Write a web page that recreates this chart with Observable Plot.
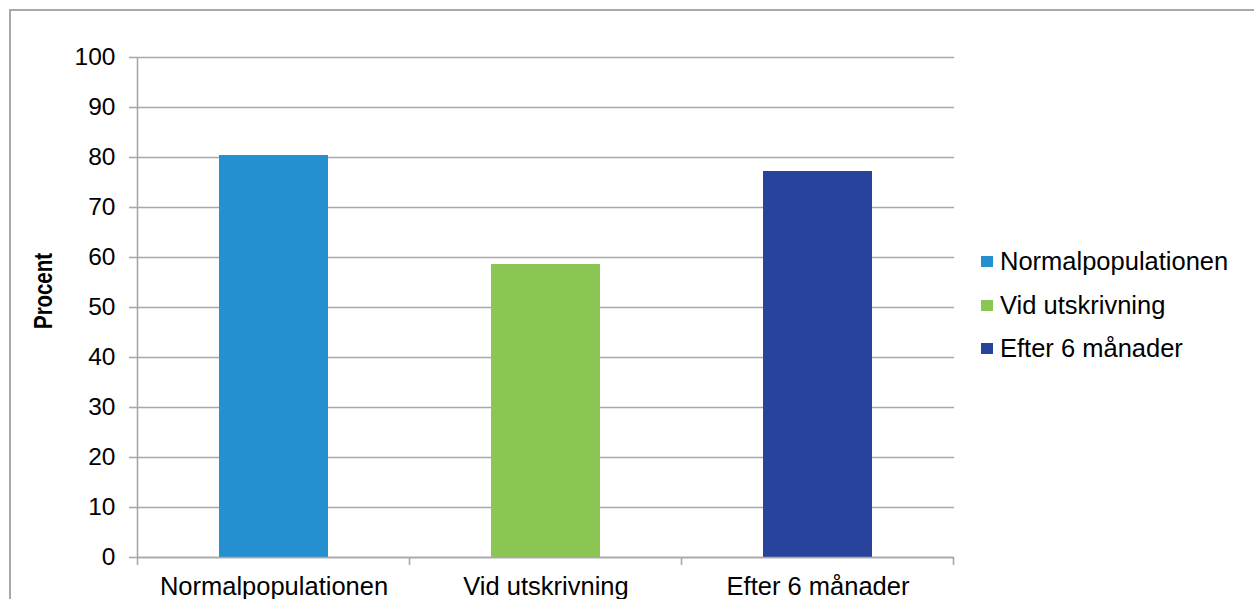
<!DOCTYPE html>
<html>
<head>
<meta charset="utf-8">
<script src="https://cdn.jsdelivr.net/npm/d3@7"></script>
<script src="https://cdn.jsdelivr.net/npm/@observablehq/plot@0.6"></script>
<style>
  html, body { margin: 0; padding: 0; background: #fff; overflow: hidden; }
  #wrap { position: relative; width: 1254px; height: 599px; overflow: hidden; }
  #border { position: absolute; left: 9px; top: 9px; width: 1300px; height: 640px; border-left: 2px solid #a8a8aa; border-top: 2px solid #a8a8aa; box-sizing: border-box; }
  #chart { position: absolute; left: 0; top: 0; }
  #legend { position: absolute; left: 981px; top: 240px; font-family: "Liberation Sans", Arial, sans-serif; font-size: 25.5px; color: #000; }
  .item { display: flex; align-items: center; height: 43.5px; }
  .sw { width: 12px; height: 11px; margin-right: 7px; }
</style>
</head>
<body>
<div id="wrap">
  <div id="border"></div>
  <div id="chart"></div>
  <div id="legend"></div>
</div>
<script>
const categories = ["Normalpopulationen", "Vid utskrivning", "Efter 6 månader"];
const values = [80.4, 58.6, 77.2];
const colors = ["#2590d0", "#8bc653", "#27439c"];
const yTicks = [0, 10, 20, 30, 40, 50, 60, 70, 80, 90, 100];
const yLabel = "Procent";

const data = categories.map((c, i) => ({category: c, value: values[i]}));
const grid = "#a8a8aa";
const font = "'Liberation Sans', Arial, sans-serif";

const plot = Plot.plot({
  width: 1254,
  height: 599,
  marginLeft: 137,
  marginRight: 300,
  marginTop: 57,
  marginBottom: 42,
  style: {fontFamily: font, background: "transparent", overflow: "visible"},
  x: {domain: categories, paddingInner: 0.6, paddingOuter: 0.3},
  y: {domain: [0, 100]},
  color: {domain: categories, range: colors},
  marks: [
    Plot.gridY(yTicks, {stroke: grid, strokeOpacity: 1, strokeWidth: 1.6}),
    Plot.barY(data, {x: "category", y: "value", fill: "category"}),
    Plot.ruleY([0], {stroke: grid, strokeWidth: 1.6}),
    Plot.axisY(yTicks, {anchor: "left", tickSize: 8, tickPadding: 14, fontSize: 24.5, stroke: grid, strokeWidth: 1.6, fill: "#000", label: null}),
    Plot.axisX({anchor: "bottom", tickSize: 0, tickPadding: 19, fontSize: 25.5, fill: "#000", label: null})
  ]
});
document.getElementById("chart").appendChild(plot);

// boundary ticks, y-axis line and y label using the plot's own scales
const svg = d3.select(plot);
const xs = plot.scale("x");
const ys = plot.scale("y");
const step = xs.step;
const bw = xs.bandwidth;
const bounds = categories.map(c => xs.apply(c) - (step - bw) / 2);
bounds.push(xs.apply(categories[categories.length - 1]) + bw + (step - bw) / 2);
const y0 = ys.apply(0), y100 = ys.apply(100);
svg.append("g").selectAll("line").data(bounds).join("line")
  .attr("x1", d => d).attr("x2", d => d)
  .attr("y1", y0).attr("y2", y0 + 8)
  .attr("stroke", grid).attr("stroke-width", 1.6);
svg.append("line")
  .attr("x1", bounds[0]).attr("x2", bounds[0])
  .attr("y1", y100).attr("y2", y0)
  .attr("stroke", grid).attr("stroke-width", 1.6);
svg.append("text")
  .attr("transform", `translate(52, ${(y0 + y100) / 2 - 16}) rotate(-90) scale(0.8, 1)`)
  .attr("text-anchor", "middle")
  .attr("font-family", "'Liberation Sans', Arial, sans-serif")
  .attr("font-weight", "bold")
  .attr("font-size", 25.5)
  .attr("fill", "#000")
  .text(yLabel);

// legend
const legend = d3.select("#legend");
categories.forEach((c, i) => {
  const item = legend.append("div").attr("class", "item");
  item.append("div").attr("class", "sw").style("background", colors[i]);
  item.append("span").text(c);
});
</script>
</body>
</html>
